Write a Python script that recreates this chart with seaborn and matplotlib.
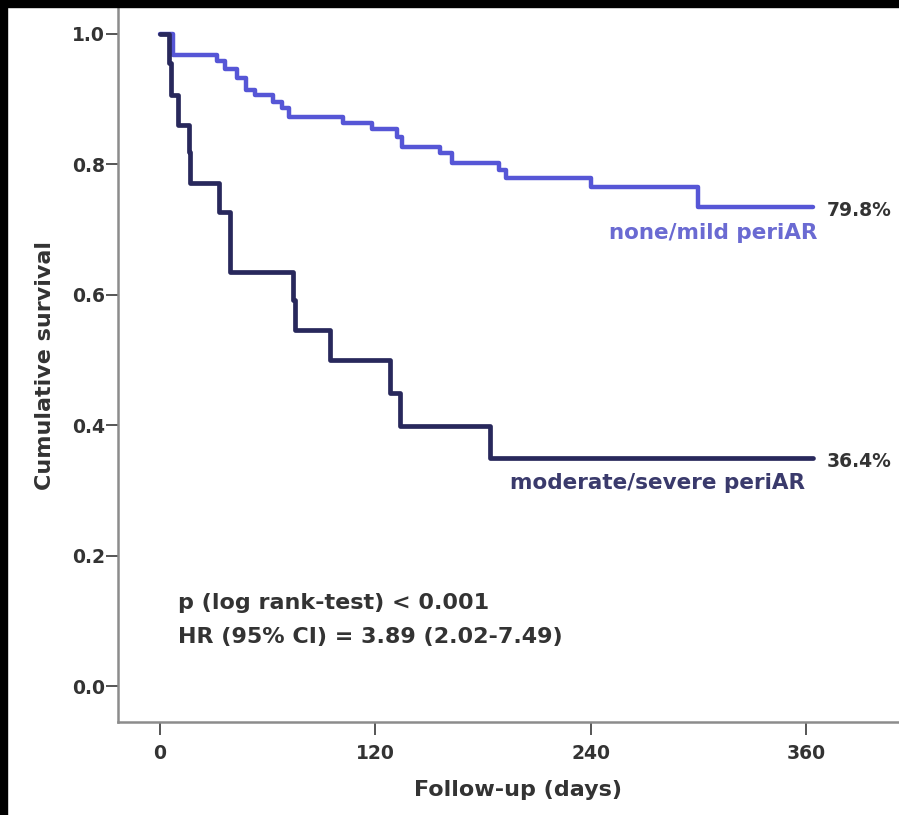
import matplotlib
matplotlib.use("Agg")
import matplotlib.pyplot as plt
from matplotlib.patches import Rectangle
import pandas as pd
import seaborn as sns

# ---- data ----
mild_days = [0, 7, 32, 36, 43, 48, 53, 63, 68, 72, 102, 118, 132, 135, 156, 163, 189, 193, 240, 300, 364]
mild_surv = [1.0, 0.968, 0.958, 0.947, 0.932, 0.914, 0.906, 0.896, 0.886, 0.872, 0.864, 0.855, 0.842, 0.827,
             0.817, 0.802, 0.791, 0.779, 0.765, 0.734, 0.734]

severe_days = [0, 5, 6, 10, 16, 17, 33, 39, 74, 75, 95, 128, 134, 184, 364]
severe_surv = [1.0, 0.955, 0.906, 0.860, 0.819, 0.772, 0.727, 0.635, 0.592, 0.546, 0.500, 0.449, 0.399, 0.350, 0.350]

x_ticks = [0, 120, 240, 360]
y_ticks = [0.0, 0.2, 0.4, 0.6, 0.8, 1.0]
y_ticklabels = ["0.0", "0.2", "0.4", "0.6", "0.8", "1.0"]

group_labels = ["none/mild periAR", "moderate/severe periAR"]
end_labels = ["79.8%", "36.4%"]
stats_lines = ["p (log rank-test) < 0.001", "HR (95% CI) = 3.89 (2.02-7.49)"]

# ---- style ----
sns.set_theme(style="white")
plt.rcParams["font.family"] = ["DejaVu Sans"]

W, H = 899, 815
fig = plt.figure(figsize=(W / 100, H / 100), dpi=100)
fig.patch.set_facecolor("white")
ax = fig.add_axes([118 / W, (H - 722) / H, (W - 118) / W, 722 / H])
ax.set_facecolor("white")

blue = "#5656d6"
navy = "#28285c"

df_mild = pd.DataFrame({"days": mild_days, "surv": mild_surv})
df_sev = pd.DataFrame({"days": severe_days, "surv": severe_surv})

sns.lineplot(data=df_mild, x="days", y="surv", ax=ax, color=blue, lw=3.2,
             drawstyle="steps-post", estimator=None, legend=False)
sns.lineplot(data=df_sev, x="days", y="surv", ax=ax, color=navy, lw=3.4,
             drawstyle="steps-post", estimator=None, legend=False)

ax.set_xlim((118 - 160) / 1.794, (899 - 160) / 1.794)
ax.set_ylim((686 - 722) / 652, 686 / 652)

sns.despine(ax=ax)
for side in ["left", "bottom"]:
    ax.spines[side].set_color("#8c8c8c")
    ax.spines[side].set_linewidth(1.8)

ax.set_xticks(x_ticks)
ax.set_xticklabels([str(t) for t in x_ticks])
ax.set_yticks(y_ticks)
ax.set_yticklabels(y_ticklabels)
ax.tick_params(axis="both", direction="out", length=8.5, width=1.4, color="#555555",
               labelsize=13.5, labelcolor="#333333", bottom=True, left=True)
ax.tick_params(axis="y", pad=1)
ax.tick_params(axis="x", pad=6, length=9.5)
for lbl in ax.get_xticklabels() + ax.get_yticklabels():
    lbl.set_fontweight("bold")

ax.set_xlabel("Follow-up (days)", fontsize=16, fontweight="bold", color="#333333")
ax.set_ylabel("Cumulative survival", fontsize=16, fontweight="bold", color="#333333")
ax.xaxis.set_label_coords((518 - 118) / 781, (722 - 790) / 722)
ax.xaxis.label.set_va("center")
ax.yaxis.set_label_coords((45 - 118) / 781, (722 - 365) / 722)
ax.yaxis.label.set_va("center")

# annotations
ax.text(371.8, mild_surv[-1] - 0.004, end_labels[0], fontsize=13.5, fontweight="bold",
        color="#333333", ha="left", va="center")
ax.text(371.8, severe_surv[-1] - 0.006, end_labels[1], fontsize=13.5, fontweight="bold",
        color="#333333", ha="left", va="center")
ax.text(366.2, 0.695, group_labels[0], fontsize=15.5, fontweight="bold",
        color="#6a6ad2", ha="right", va="center")
ax.text(359.5, 0.311, group_labels[1], fontsize=15.5, fontweight="bold",
        color="#3a3a6c", ha="right", va="center")
ax.text(10, 0.127, stats_lines[0], fontsize=16, fontweight="bold",
        color="#333333", ha="left", va="center")
ax.text(10, 0.075, stats_lines[1], fontsize=16, fontweight="bold",
        color="#333333", ha="left", va="center")

# black frame strips on top and left edges
fig.add_artist(Rectangle((0, 1 - 7 / H), 1, 7 / H, transform=fig.transFigure,
                         color="black", zorder=20))
fig.add_artist(Rectangle((0, 0), 7 / W, 1, transform=fig.transFigure,
                         color="black", zorder=20))

fig.savefig("out.png", dpi=100, facecolor=fig.get_facecolor())
